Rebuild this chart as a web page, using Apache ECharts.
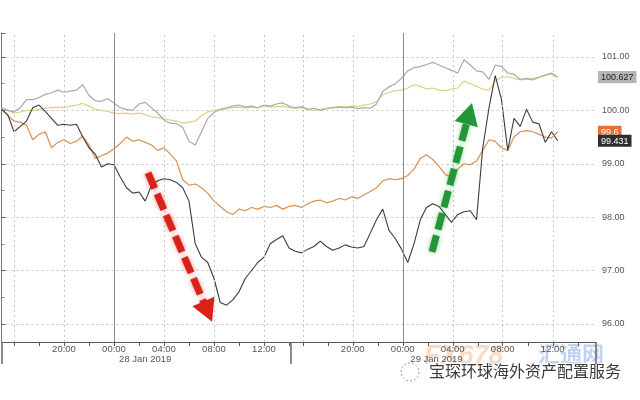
<!DOCTYPE html>
<html>
<head>
<meta charset="utf-8">
<script src="https://cdn.jsdelivr.net/npm/echarts@6/dist/echarts.min.js"></script>
<style>html,body{margin:0;padding:0;background:#fff}#c{width:640px;height:400px}</style>
</head>
<body>
<div id="c"></div>
<script>
// ---- data (display hours since 27 Jan 15:00, session gap removed; one value every 0.5 h) ----
const STEP_H = 0.5;
const gray = [100.05,100.0,99.97,100.05,100.2,100.2,100.24,100.3,100.33,100.38,100.34,100.36,100.38,100.48,100.28,100.18,100.17,100.22,100.14,100.05,
  100.02,100.0,100.12,100.15,100.05,99.95,99.82,99.76,99.75,99.68,99.42,99.35,99.6,99.85,99.96,100.02,100.05,100.08,100.1,100.06,
  100.08,100.05,100.1,100.08,100.12,100.14,100.08,100.05,100.07,100.02,100.04,100.0,100.03,100.05,100.06,100.05,100.06,100.03,100.05,100.04,
  100.12,100.36,100.44,100.5,100.6,100.74,100.8,100.82,100.86,100.9,100.85,100.8,100.75,100.7,100.95,100.85,100.74,100.72,100.58,100.85,
  100.82,100.7,100.68,100.58,100.6,100.57,100.62,100.66,100.7,100.627];
const yellow = [100.05,100.0,99.95,99.97,100.0,100.0,100.02,100.04,100.05,100.06,100.05,100.08,100.1,100.13,100.08,100.02,100.0,99.98,99.95,99.94,
  99.95,99.93,99.95,99.92,99.88,99.87,99.84,99.82,99.8,99.76,99.78,99.8,99.9,99.97,100.0,100.02,100.03,100.05,100.06,100.04,
  100.06,100.05,100.08,100.06,100.07,100.08,100.05,100.03,100.05,100.02,100.0,100.02,100.04,100.05,100.07,100.06,100.08,100.07,100.1,100.12,
  100.16,100.3,100.33,100.37,100.38,100.42,100.48,100.45,100.4,100.42,100.38,100.37,100.4,100.42,100.55,100.5,100.45,100.4,100.38,100.55,
  100.62,100.63,100.6,100.57,100.58,100.6,100.62,100.66,100.68,100.62];
const orange = [100.03,99.9,99.8,99.78,99.72,99.45,99.55,99.6,99.3,99.4,99.45,99.38,99.42,99.52,99.35,99.1,99.15,99.2,99.28,99.38,
  99.5,99.42,99.45,99.4,99.35,99.25,99.3,99.18,99.05,98.7,98.6,98.62,98.55,98.45,98.3,98.2,98.1,98.05,98.15,98.12,
  98.18,98.15,98.2,98.18,98.22,98.15,98.2,98.22,98.18,98.25,98.3,98.32,98.27,98.3,98.35,98.32,98.38,98.35,98.42,98.48,
  98.55,98.68,98.72,98.7,98.72,98.78,98.9,99.1,99.17,99.08,98.95,98.8,98.75,98.9,99.0,98.98,99.05,99.25,99.45,99.42,
  99.3,99.25,99.5,99.6,99.62,99.6,99.55,99.5,99.48,99.6];
const black = [100.02,99.92,99.6,99.7,99.8,100.05,100.1,99.98,99.85,99.72,99.74,99.72,99.74,99.5,99.3,99.18,98.94,99.0,98.98,98.75,
  98.55,98.45,98.47,98.3,98.6,98.68,98.72,98.7,98.65,98.55,98.3,97.5,97.25,97.15,96.85,96.4,96.35,96.45,96.6,96.85,
  97.0,97.15,97.25,97.5,97.58,97.65,97.42,97.36,97.33,97.4,97.45,97.55,97.45,97.38,97.42,97.48,97.44,97.42,97.45,97.7,
  97.95,98.15,97.75,97.6,97.4,97.15,97.5,97.95,98.18,98.25,98.2,98.05,97.9,98.05,98.1,98.12,97.95,99.3,100.05,100.65,
  100.2,99.25,99.85,99.7,100.02,99.78,99.75,99.4,99.6,99.431];

// last-value tags on the right axis
const tagsBack = [ { v: 100.62, bg: '#e3cf84', fg: '#333' }, { v: 99.6, bg: '#e5703a', fg: '#fff' } ];
const tagsFront = [ { v: 100.627, bg: '#b5b5b5', fg: '#222' }, { v: 99.431, bg: '#2e2e2e', fg: '#fff' } ];

// ---- axis ticks / labels ----
const X_MAX_H = 47.56;
const timeLabels = ['20:00','00:00','04:00','08:00','12:00','20:00','00:00','04:00','08:00','12:00'];
const timeLabelHours = [5, 9, 13, 17, 21, 28.1, 32.1, 36.1, 40.1, 44.1];
const minorTickHours = [1,3,5,7,9,11,13,15,17,19,21,23,24.1,26.1,28.1,30.1,32.1,34.1,36.1,38.1,40.1,42.1,44.1,46.1];
const gridHours = [1,5,9,13,17,21,24.1,28.1,32.1,36.1,40.1,44.1];
const dayStartHours = [9, 32.1];
const sessionHours = [0, 23.1, X_MAX_H];
const dateLabels = ['28 Jan 2019', '29 Jan 2019'];
const dateLabelHours = [11.5, 34.8];
const Y_MIN = 95.66, Y_MAX = 101.45;
// annotation arrows (data coordinates: [hour, value])
const redArrow = [[11.72, 98.83], [16.5, 96.23]];
const greenArrow = [[34.44, 97.35], [37.41, 99.94]];

const FONT = 'Liberation Sans';
const toPairs = arr => arr.map((v, i) => [i * STEP_H, v]);

function arrowLine(pts, color, glow) {
  return [
    { coord: pts[0], symbol: 'none',
      lineStyle: { color: color, width: 7, type: [17, 6], cap: 'butt', shadowBlur: 5, shadowColor: glow } },
    { coord: pts[1], symbol: 'triangle', symbolSize: [24, 22] }
  ];
}
function tagAxis(tags) {
  const rich = {};
  tags.forEach((t, k) => { rich['t' + k] = { backgroundColor: t.bg, color: t.fg, fontSize: 9, fontFamily: FONT, padding: [2, 3, 1, 3] }; });
  return {
    type: 'value', position: 'right', min: Y_MIN, max: Y_MAX,
    axisLine: { show: false }, axisTick: { show: false }, splitLine: { show: false },
    axisLabel: { show: true, margin: 2, customValues: tags.map(t => t.v), rich: rich,
      formatter: v => { const k = tags.findIndex(t => Math.abs(t.v - v) < 1e-6); return k >= 0 ? '{t' + k + '|' + tags[k].v + '}' : ''; } }
  };
}

const chart = echarts.init(document.getElementById('c'), null, { renderer: 'canvas' });
const xBase = { type: 'value', min: 0, max: X_MAX_H, gridIndex: 0 };
chart.setOption({
  animation: false,
  backgroundColor: '#ffffff',
  grid: { left: 1.5, right: 44, top: 33, bottom: 58, containLabel: false },
  xAxis: [
    Object.assign({}, xBase, {
      position: 'bottom',
      axisLine: { show: true, lineStyle: { color: '#5a5a5a', width: 1 } },
      axisTick: { show: true, length: 4, lineStyle: { color: '#5a5a5a' }, customValues: minorTickHours },
      axisLabel: { show: true, customValues: timeLabelHours, margin: 2, color: '#555', fontSize: 9.5, fontFamily: FONT,
        formatter: v => { const k = timeLabelHours.findIndex(h => Math.abs(h - v) < 1e-6); return k >= 0 ? timeLabels[k] : ''; } },
      splitLine: { show: false }
    }),
    Object.assign({}, xBase, {
      position: 'bottom',
      axisLine: { show: false },
      axisTick: { show: true, length: 22, lineStyle: { color: '#666', width: 1.5 }, customValues: sessionHours },
      axisLabel: { show: false },
      splitLine: { show: false }
    }),
    Object.assign({}, xBase, {
      position: 'bottom',
      axisLine: { show: false },
      axisTick: { show: false, customValues: dateLabelHours },
      axisLabel: { show: true, customValues: dateLabelHours, margin: 12, color: '#555', fontSize: 9.5, fontFamily: FONT,
        formatter: v => { const k = dateLabelHours.findIndex(h => Math.abs(h - v) < 1e-6); return k >= 0 ? dateLabels[k] : ''; } },
      splitLine: { show: false }
    })
  ],
  yAxis: [
    {
      type: 'value', position: 'right', min: Y_MIN, max: Y_MAX, minInterval: 1, maxInterval: 1,
      axisLine: { show: true, lineStyle: { color: '#777', width: 1 } },
      axisTick: { show: true, length: 4, lineStyle: { color: '#666' } },
      minorTick: { show: true, splitNumber: 2, length: 3, lineStyle: { color: '#888' } },
      axisLabel: { margin: 6, color: '#555', fontSize: 9, fontFamily: FONT, showMinLabel: false, showMaxLabel: false,
        formatter: v => (Math.abs(v - Math.round(v)) < 1e-6 ? v.toFixed(2) : '') },
      splitLine: { show: true, showMinLine: false, showMaxLine: false, lineStyle: { color: '#c4c4c4', type: [2, 3], width: 1 } }
    },
    tagAxis(tagsBack),
    tagAxis(tagsFront)
  ],
  series: [
    { name: 'grid', type: 'line', data: [], silent: true, z: 1,
      markLine: { silent: true, symbol: 'none', animation: false, label: { show: false },
        data: gridHours.map(h => ({ xAxis: h, lineStyle: { color: '#c4c4c4', type: [2, 3], width: 1 } }))
          .concat(dayStartHours.map(h => ({ xAxis: h, lineStyle: { color: '#8c8c8c', type: 'solid', width: 1 } }))) } },
    { name: 'yellow', type: 'line', data: toPairs(yellow), showSymbol: false, symbol: 'none',
      lineStyle: { color: '#e3cf84', width: 1.2 } },
    { name: 'gray', type: 'line', data: toPairs(gray), showSymbol: false, symbol: 'none',
      lineStyle: { color: '#a9a9a9', width: 1.2 } },
    { name: 'orange', type: 'line', data: toPairs(orange), showSymbol: false, symbol: 'none',
      lineStyle: { color: '#d99055', width: 1.2 } },
    { name: 'black', type: 'line', data: toPairs(black), showSymbol: false, symbol: 'none',
      lineStyle: { color: '#3c3c3c', width: 1.1 } },
    { name: 'arrows', type: 'line', data: [], silent: true, z: 5,
      markLine: { silent: true, animation: false, label: { show: false },
        data: [ arrowLine(redArrow, '#d8231b', 'rgba(220,40,30,0.55)'),
                arrowLine(greenArrow, '#23963a', 'rgba(40,160,60,0.55)') ] } }
  ],
  graphic: [
    { type: 'text', left: 424, top: 343, silent: true,
      style: { text: 'FX678', fill: 'rgba(235,150,90,0.35)', font: 'italic bold 27px "Liberation Sans"' } },
    { type: 'text', left: 538, top: 343, silent: true,
      style: { text: '汇通网', fill: 'rgba(80,130,210,0.35)', font: 'bold 22px "Noto Sans CJK SC"' } },
    { type: 'circle', shape: { cx: 410, cy: 372, r: 9 }, silent: true,
      style: { fill: 'none', stroke: '#999', lineWidth: 1, lineDash: [2, 2] } },
    { type: 'text', left: 428, top: 362, silent: true,
      style: { text: '宝琛环球海外资产配置服务', fill: '#3a3a3a', font: '16px "Noto Sans CJK SC"',
        stroke: '#ffffff', lineWidth: 2 } }
  ]
});
</script>
</body>
</html>
